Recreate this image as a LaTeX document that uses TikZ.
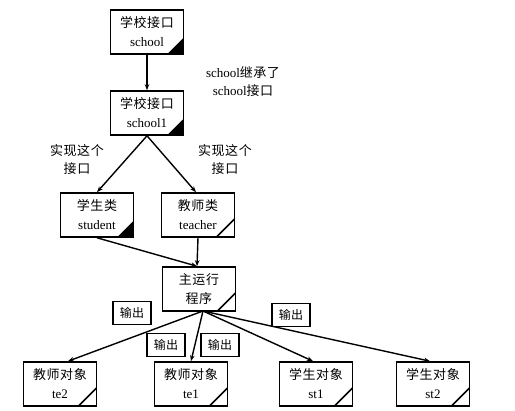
\documentclass[tikz,border=0pt]{standalone}
\usepackage{fontspec}
\setmainfont{Liberation Serif}
\newfontfamily\cjk{Noto Sans CJK SC}[LetterSpace=4]
\usetikzlibrary{arrows.meta}
\tikzset{
  box/.style={draw, line width=1.6pt, minimum width=73pt, minimum height=44pt, inner sep=1pt, align=center, font=\fontsize{13}{19}\selectfont},
  solidc/.style={path picture={\fill (path picture bounding box.south east) -- ++(-16pt,0pt) -- ++(16pt,16pt) -- cycle;}},
  linec/.style={path picture={\draw[line width=1.5pt] ([xshift=-18pt]path picture bounding box.south east) -- ([yshift=18pt]path picture bounding box.south east);}},
  outbox/.style={draw, line width=1.2pt, minimum width=38pt, minimum height=23pt, inner sep=1pt, font=\cjk\fontsize{12}{14}\selectfont},
  lbl/.style={align=center, font=\fontsize{13}{18}\selectfont},
  conn/.style={line width=1.4pt, -{Stealth[length=6pt,width=4.5pt]}}
}
\begin{document}
\begin{tikzpicture}[x=1pt,y=-1pt]
\useasboundingbox (0,0) rectangle (515,411);
\node[box, solidc] (school) at (147,32) {{\cjk 学校接口}\\school};
\node[box, solidc] (school1) at (147,113) {{\cjk 学校接口}\\school1};
\node[box, solidc] (student) at (97,215) {{\cjk 学生类}\\student};
\node[box, linec] (teacher) at (198,215) {{\cjk 教师类}\\teacher};
\node[box, linec] (main) at (199,289) {\cjk 主运行\\\cjk 程序};
\node[box, linec] (te2) at (60,384) {{\cjk 教师对象}\\te2};
\node[box, linec] (te1) at (191,384) {{\cjk 教师对象}\\te1};
\node[box, linec] (st1) at (316,384) {{\cjk 学生对象}\\st1};
\node[box, linec] (st2) at (433,384) {{\cjk 学生对象}\\st2};

\node[lbl] (inh) at (243,82) {school{\cjk 继承了}\\school{\cjk 接口}};
\node[lbl] (impl1) at (77,160) {\cjk 实现这个\\\cjk 接口};
\node[lbl] (impl2) at (225,160) {\cjk 实现这个\\\cjk 接口};

\node[outbox] (o1) at (132,313) {输出};
\node[outbox] (o2) at (166,345) {输出};
\node[outbox] (o3) at (220,345) {输出};
\node[outbox] (o4) at (291,315) {输出};

\draw[conn] (school) -- (school1);
\draw[conn] (school1.south) -- (student.north);
\draw[conn] (school1.south) -- ([xshift=-2pt]teacher.north);
\draw[conn] (student.south) -- ([xshift=-2pt]main.north);
\draw[conn] (teacher.south) -- ([xshift=-2pt]main.north);
\coordinate (mo) at (203,311);
\draw[conn] (mo) -- ([xshift=8pt]te2.north);
\draw[conn] (mo) -- (te1.north);
\draw[conn] (mo) -- ([xshift=-3pt]st1.north);
\draw[conn] (mo) -- ([xshift=-3pt]st2.north);
\end{tikzpicture}
\end{document}
